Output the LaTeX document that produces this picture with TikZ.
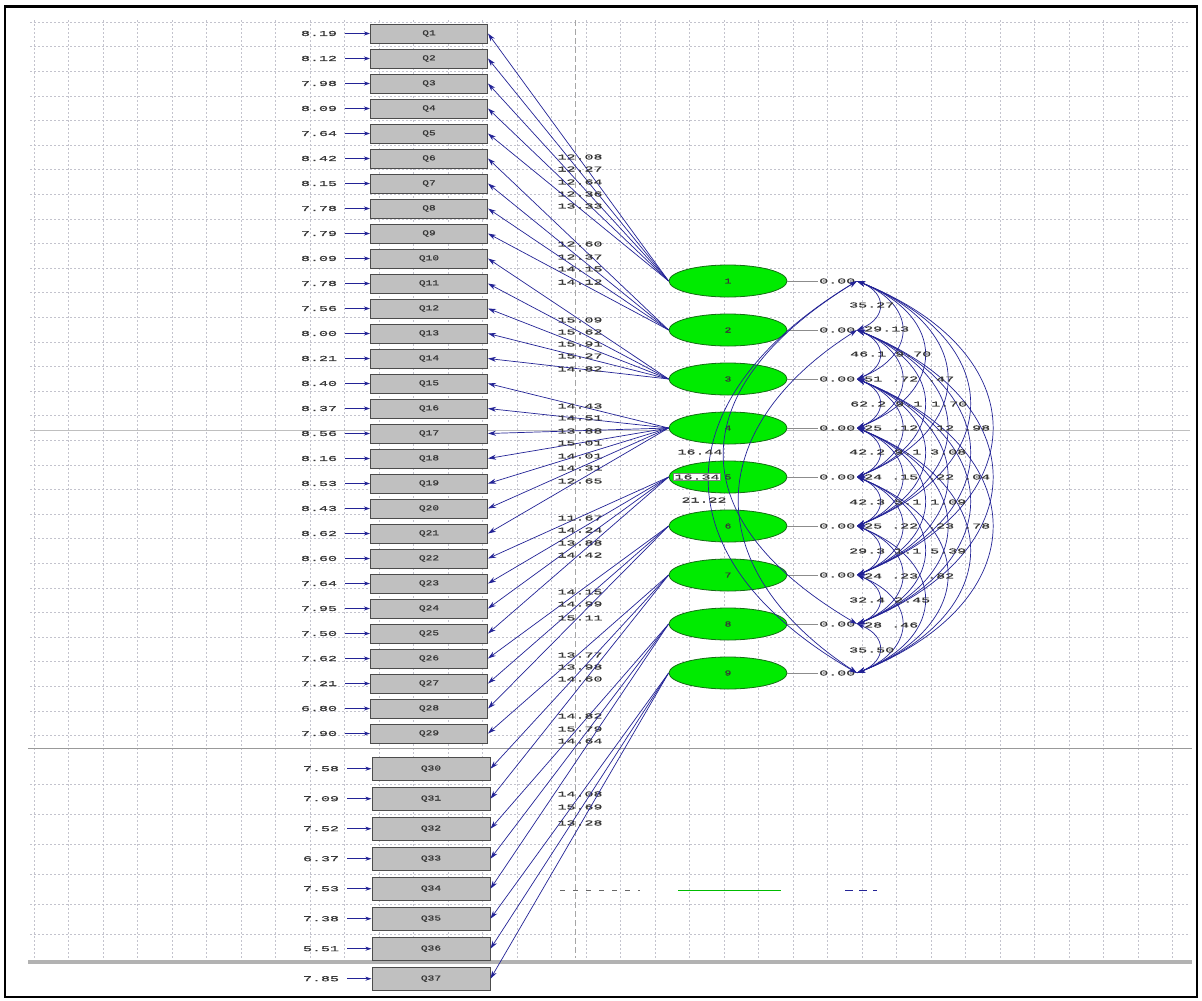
\documentclass[tikz,border=0pt]{standalone}
\usepackage{fontspec}
\newfontfamily\lisfont[FakeStretch=2,FakeBold=0.8]{Liberation Mono}
\newfontfamily\qfont[FakeStretch=1.5,FakeBold=0.8]{Liberation Mono}
\usetikzlibrary{arrows.meta,calc,shapes.geometric}
\definecolor{pathblue}{RGB}{35,35,150}
\definecolor{latgreen}{RGB}{0,235,0}
\definecolor{latedge}{RGB}{20,110,20}
\definecolor{boxgray}{RGB}{192,192,192}
\definecolor{gridgray}{RGB}{195,195,205}
\definecolor{txtgray}{RGB}{55,55,55}
\begin{document}
\begin{tikzpicture}[x=1pt,y=-1pt,
  qbox/.style={draw=black!70,line width=1pt,fill=boxgray,minimum width=117pt,
    minimum height=#1,inner sep=0pt,font=\qfont\fontsize{7.5}{7.5}\selectfont,text=txtgray},
  qbox/.default=19pt,
  latent/.style={ellipse,draw=latedge,line width=0.8pt,fill=latgreen,minimum width=118pt,
    minimum height=32pt,inner sep=0pt,font=\qfont\fontsize{7.5}{7.5}\selectfont,text=txtgray},
  tval/.style={inner sep=1pt,font=\lisfont\fontsize{7.5}{7.5}\selectfont,text=txtgray},
  errarr/.style={-{Stealth[length=6pt,width=4pt]},pathblue,line width=1pt,shorten <=7pt},
  load/.style={-{Stealth[length=8pt,width=5pt]},pathblue,line width=0.7pt},
  cov/.style={{Stealth[length=8pt,width=5pt]}-{Stealth[length=8pt,width=5pt]},pathblue,line width=0.7pt},
  grid/.style={gridgray,line width=0.4pt,dash pattern=on 2pt off 2pt}]
\useasboundingbox (0,0) rectangle (1202,1001);
\fill[white] (0,0) rectangle (1202,1001);

% background grid
\foreach \gx in {0,...,33}
  \draw[grid] ({34+\gx*34.5},20) -- ({34+\gx*34.5},958);
\foreach \gy in {0,...,29}
  \draw[grid] (30,{22+\gy*24.6}) -- (1190,{22+\gy*24.6});
\foreach \gy in {0,...,5}
  \draw[grid] (30,{784+\gy*30}) -- (1190,{784+\gy*30});
\draw[black!35,dash pattern=on 6pt off 3pt,line width=0.8pt] (575,20) -- (575,958);
\draw[black!25] (30,430) -- (1190,430);
\draw[black!40,line width=0.8pt] (28,748) -- (1192,748);
\draw[black!30,line width=4pt] (28,962) -- (1192,962);
\draw[black!60,dash pattern=on 5pt off 8pt] (560,890) -- (640,890);
\draw[latgreen!80!black,line width=1pt] (678,890) -- (781,890);
\draw[pathblue,dash pattern=on 8pt off 6pt] (845,890) -- (877,890);

% observed variables
\foreach \k/\e in {1/8.19,2/8.12,3/7.98,4/8.09,5/7.64,6/8.42,7/8.15,8/7.78,9/7.79,10/8.09,
    11/7.78,12/7.56,13/8.00,14/8.21,15/8.40,16/8.37,17/8.56,18/8.16,19/8.53,20/8.43,
    21/8.62,22/8.60,23/7.64,24/7.95,25/7.50,26/7.62,27/7.21,28/6.80,29/7.90}{
  \node[qbox] (q\k) at (429,{33.5+(\k-1)*25}) {Q\k};
  \node[tval] (e\k) at (319,{33.5+(\k-1)*25}) {\e};
  \draw[errarr] (e\k) -- (q\k);
}
\foreach \k/\e in {30/7.58,31/7.09,32/7.52,33/6.37,34/7.53,35/7.38,36/5.51,37/7.85}{
  \node[qbox=23pt,minimum width=118pt] (q\k) at (431,{768.7+(\k-30)*30}) {Q\k};
  \node[tval] (e\k) at (321,{768.7+(\k-30)*30}) {\e};
  \draw[errarr] (e\k) -- (q\k);
}

% latent variables
\foreach \i in {1,...,9}{
  \node[latent] (f\i) at (728,{281+(\i-1)*49}) {\i};
  \node[tval,anchor=west] (z\i) at (818,{281+(\i-1)*49}) {0.00};
  \coordinate (c\i) at (857,{281+(\i-1)*49});
  \draw[black!45,line width=0.4pt] (f\i.east) -- (z\i.west);
}

% loadings
\foreach \f/\q/\t/\ly in {1/1/12.08/157,1/2/12.27/169,1/3/12.64/182,1/4/12.36/194,1/5/13.33/206,
    2/6/12.60/244,2/7/12.37/257,2/8/14.15/269,2/9/14.12/282,
    3/10/15.09/320,3/11/15.62/332,3/12/15.91/344,3/13/15.27/356,3/14/14.82/369,
    4/15/14.43/406,4/16/14.51/418,4/17/13.88/431,4/18/15.01/443,4/19/14.01/456,4/20/14.31/468,4/21/12.65/481,
    5/22/11.67/518,5/23/14.24/530,5/24/13.88/543,5/25/14.42/555,
    6/26/14.15/592,6/27/14.99/604,6/28/15.11/618,
    7/29/13.77/655,7/30/13.98/667,7/31/14.60/679,
    8/32/14.82/716,8/33/15.79/729,8/34/14.64/741,
    9/35/14.08/794,9/36/15.69/807,9/37/13.28/823}{
  \draw[load] (f\f.west) -- (q\q.east);
  \node[tval] (t\q) at (580,\ly) {\t};
}

% covariances
\draw[cov] (c1) .. controls (660,400) and (660,560) .. (c9);
\draw[cov] (c1) .. controls (680,390) and (680,520) .. (c8);
\draw[cov] (c2) .. controls (700,430) and (700,570) .. (c9);
\foreach \i in {1,...,8}{
  \pgfmathtruncatemacro\jfirst{\i+1}
  \foreach \j in {\jfirst,...,9}{
    \pgfmathtruncatemacro\dd{\j-\i}
    \ifnum\dd<7
      \draw[cov] (c\i) .. controls ($(c\i)+(30*\dd,12*\dd)$) and ($(c\j)+(30*\dd,-12*\dd)$) .. (c\j);
    \fi
  }
}
\node[tval] (k19) at (700,452) {16.44};
\node[tval,fill=white,draw=black!50] (k18) at (697,477) {16.34};
\node[tval] (k29) at (704,500) {21.22};
\foreach \n/\y/\x/\s in {1/305/848/35.27,2/329/863/29.13,3/354/849/46.1 9.70,4/379/863/51 .72 .47,
    5/404/849/62.2 9.1 1.70,6/428/863/25 .12 .12 .98,7/452/848/42.2 9.1 3.08,
    8/477/863/24 .15 .22 .04,9/502/848/42.3 5.1 1.09,10/526/863/25 .22 .23 .78,
    11/551/848/29.3 1.1 5.39,12/576/863/24 .23 .82,13/600/848/32.4 2.45,
    14/625/863/28 .46,15/650/848/35.50}
  \node[tval,anchor=west] (r\n) at (\x,\y) {\s};

\draw[line width=1.2pt] (5,6) rectangle (1197,997);
\draw[line width=3pt] (4,6) -- (1198,6);
\end{tikzpicture}
\end{document}
